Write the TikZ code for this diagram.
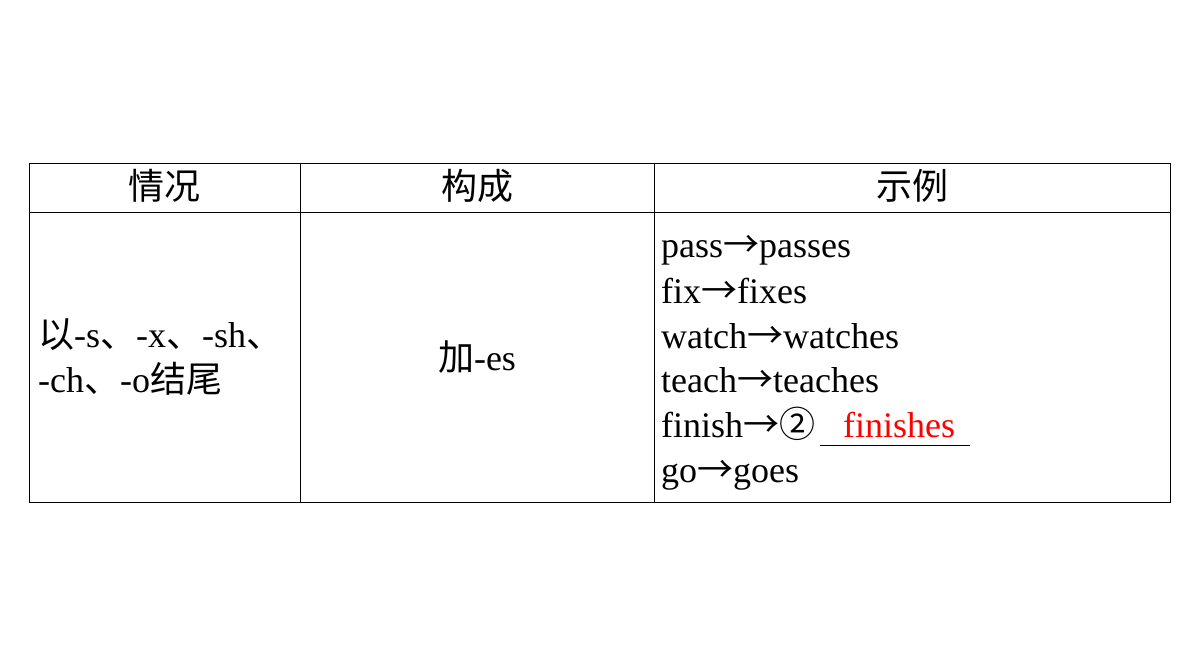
\documentclass[tikz,border=0pt]{standalone}
\usepackage{fontspec}
\setmainfont{Liberation Serif}
\newfontfamily\cjk{Noto Sans CJK SC}
\begin{document}
\begin{tikzpicture}[x=1pt,y=-1pt,
  line/.style={draw=black,line width=0.9pt},
  txt/.style={inner sep=0pt,font=\fontsize{36}{40}\selectfont},
  ex/.style={txt,anchor=base west}]
\useasboundingbox (0,0) rectangle (1200,671);
\draw[line] (29,163) rectangle (1170,502);
\draw[line] (29,212) -- (1170,212);
\draw[line] (300,163) -- (300,502);
\draw[line] (654,163) -- (654,502);
\node[txt] (h1) at (164.5,186) {\cjk 情况};
\node[txt] (h2) at (477,186) {\cjk 构成};
\node[txt] (h3) at (912,186) {\cjk 示例};
\node[ex] (l1) at (38,347) {{\cjk 以}-s{\cjk 、}-x{\cjk 、}-sh{\cjk 、}};
\node[ex] (l2) at (38,392) {-ch{\cjk 、}-o{\cjk 结尾}};
\node[txt] (m) at (477,357) {{\cjk 加}-es};
\node[ex] (e1) at (661,258) {pass{\cjk →}passes};
\node[ex] (e2) at (661,303) {fix{\cjk →}fixes};
\node[ex] (e3) at (661,348) {watch{\cjk →}watches};
\node[ex] (e4) at (661,392) {teach{\cjk →}teaches};
\node[ex] (e5) at (661,437) {finish{\cjk →②}};
\node[ex] (e6) at (661,482) {go{\cjk →}goes};
\coordinate (u1) at (820,445);
\coordinate (u2) at (970,445);
\draw[line] (u1) -- (u2);
\node[txt,anchor=base,text=red] (ans) at (899,437) {finishes};
\end{tikzpicture}
\end{document}
